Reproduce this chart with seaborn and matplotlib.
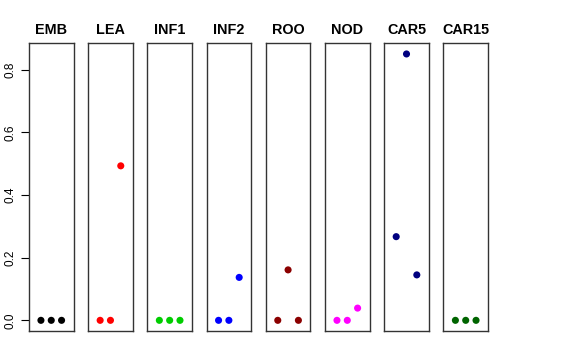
import matplotlib
matplotlib.use("Agg")
import matplotlib.pyplot as plt
import pandas as pd
import seaborn as sns

panels = ["EMB", "LEA", "INF1", "INF2", "ROO", "NOD", "CAR5", "CAR15"]
colors = ["#000000", "#FF0000", "#00CD00", "#0000FF", "#8B0000", "#FF00FF", "#000080", "#006400"]
positions = [1, 2, 3]
values = {
    "EMB": [0.0, 0.0, 0.0],
    "LEA": [0.0, 0.0, 0.493],
    "INF1": [0.0, 0.0, 0.0],
    "INF2": [0.0, 0.0, 0.137],
    "ROO": [0.0, 0.161, 0.0],
    "NOD": [0.0, 0.0, 0.039],
    "CAR5": [0.267, 0.850, 0.145],
    "CAR15": [0.0, 0.0, 0.0],
}

rows = []
for name in panels:
    for x, y in zip(positions, values[name]):
        rows.append({"panel": name, "x": x, "y": y})
df = pd.DataFrame(rows)

sns.set_style("white")
plt.rcParams["font.family"] = ["Liberation Sans", "DejaVu Sans"]
plt.rcParams["text.color"] = "black"
plt.rcParams["ytick.color"] = "black"

fig, axes = plt.subplots(1, len(panels), figsize=(5.76, 3.6), dpi=100, sharey=True)
fig.subplots_adjust(left=0.0503, right=0.8472, top=0.8797, bottom=0.0806, wspace=0.329)

ymax = df["y"].max()
for ax, name, col in zip(axes, panels, colors):
    sub = df[df["panel"] == name]
    sns.scatterplot(data=sub, x="x", y="y", color=col, s=26, edgecolor="none", ax=ax)
    ax.set_xlim(-0.16, 4.16)
    ax.set_ylim(-0.04 * ymax, ymax * 1.04)
    ax.set_title(name, fontsize=10.4, fontweight="bold", pad=6.5, color="black")
    ax.set_xlabel("")
    ax.set_ylabel("")
    ax.set_xticks([])
    for sp in ax.spines.values():
        sp.set_color("#333333")
        sp.set_linewidth(1.0)
    ax.tick_params(axis="y", left=False, labelleft=False)

axes[0].set_yticks([0.0, 0.2, 0.4, 0.6, 0.8])
axes[0].set_yticklabels(["0.0", "0.2", "0.4", "0.6", "0.8"], rotation=90, va="center")
axes[0].tick_params(axis="y", left=True, labelleft=True, length=6, width=0.8, pad=3,
                    labelsize=8.5, color="black", labelcolor="black")

fig.savefig("out.png", dpi=100)
